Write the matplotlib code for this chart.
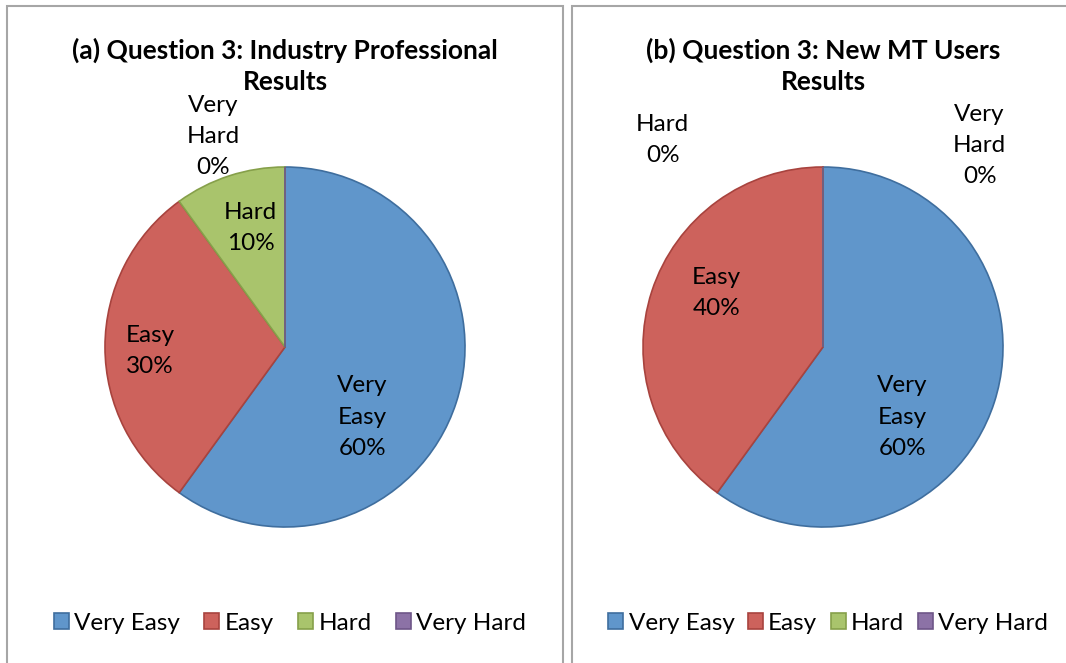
import matplotlib.pyplot as plt
from matplotlib.patches import Patch, Rectangle

# --- data ---
categories = ['Very Easy', 'Easy', 'Hard', 'Very Hard']
industry_pct = [60, 30, 10, 0]
new_users_pct = [60, 40, 0, 0]
titles = ['(a) Question 3: Industry Professional\nResults',
          '(b) Question 3: New MT Users\nResults']

# --- styles ---
face_colors = ['#6096CB', '#CD625C', '#A9C46C', '#8C72A6']
edge_colors = ['#3F6E9E', '#A8433E', '#86A04A', '#6E5688']
FONT = 'Lato'
W, H = 1066, 663

# label offsets (in pie radius units) for each panel
label_pos = [
    [(0.43, -0.39), (-0.75, -0.02), (-0.19, 0.66), (-0.40, 1.17)],
    [(0.44, -0.39), (-0.59, 0.30), (-0.89, 1.15), (0.87, 1.12)],
]

fig = plt.figure(figsize=(W / 100, H / 100), dpi=100)
plt.rcParams['font.family'] = [FONT, 'DejaVu Sans']

# panel frames (pixels: left, top, right)
panels = [(7, 6, 563), (572, 6, 1072)]
for x0, y0, x1 in panels:
    fig.patches.append(Rectangle((x0 / W, -0.05), (x1 - x0) / W, 1.05 - y0 / H,
                                 transform=fig.transFigure, fill=False,
                                 edgecolor='#A6A6A6', linewidth=1.5))

centers = [285, 823]
radius_px = 180
cy = 347
legend_x = [290, 828]
col_space = [1.0, 0.55]

for i, values in enumerate([industry_pct, new_users_pct]):
    cx = centers[i]
    ax = fig.add_axes([(cx - radius_px) / W, (H - cy - radius_px) / H,
                       2 * radius_px / W, 2 * radius_px / H])
    ax.pie(values, colors=face_colors, startangle=90, counterclock=False,
           radius=1, wedgeprops=dict(linewidth=1.2), normalize=True)
    for w, ec in zip(ax.patches, edge_colors):
        w.set_edgecolor(ec)
    ax.set_xlim(-1, 1)
    ax.set_ylim(-1, 1)
    ax.set_aspect('equal')
    ax.axis('off')

    for cat, v, (lx, ly) in zip(categories, values, label_pos[i]):
        txt = cat.replace(' ', '\n') + '\n' + f'{v}%'
        ax.text(lx, ly, txt, ha='center', va='center', fontsize=17.5,
                linespacing=1.6, color='black')

    fig.text(cx / W, 1 - 66 / H, titles[i], ha='center', va='center',
             fontsize=19, fontweight='bold', linespacing=1.36)

    handles = [Patch(facecolor=fc, edgecolor=ec, linewidth=1.2)
               for fc, ec in zip(face_colors, edge_colors)]
    fig.legend(handles, categories, loc='center',
               bbox_to_anchor=(legend_x[i] / W, 1 - 623 / H), ncol=4,
               frameon=False, fontsize=17.5, handlelength=0.62,
               handleheight=0.62, handletextpad=0.22,
               columnspacing=col_space[i])

fig.savefig('out.png', dpi=100)
